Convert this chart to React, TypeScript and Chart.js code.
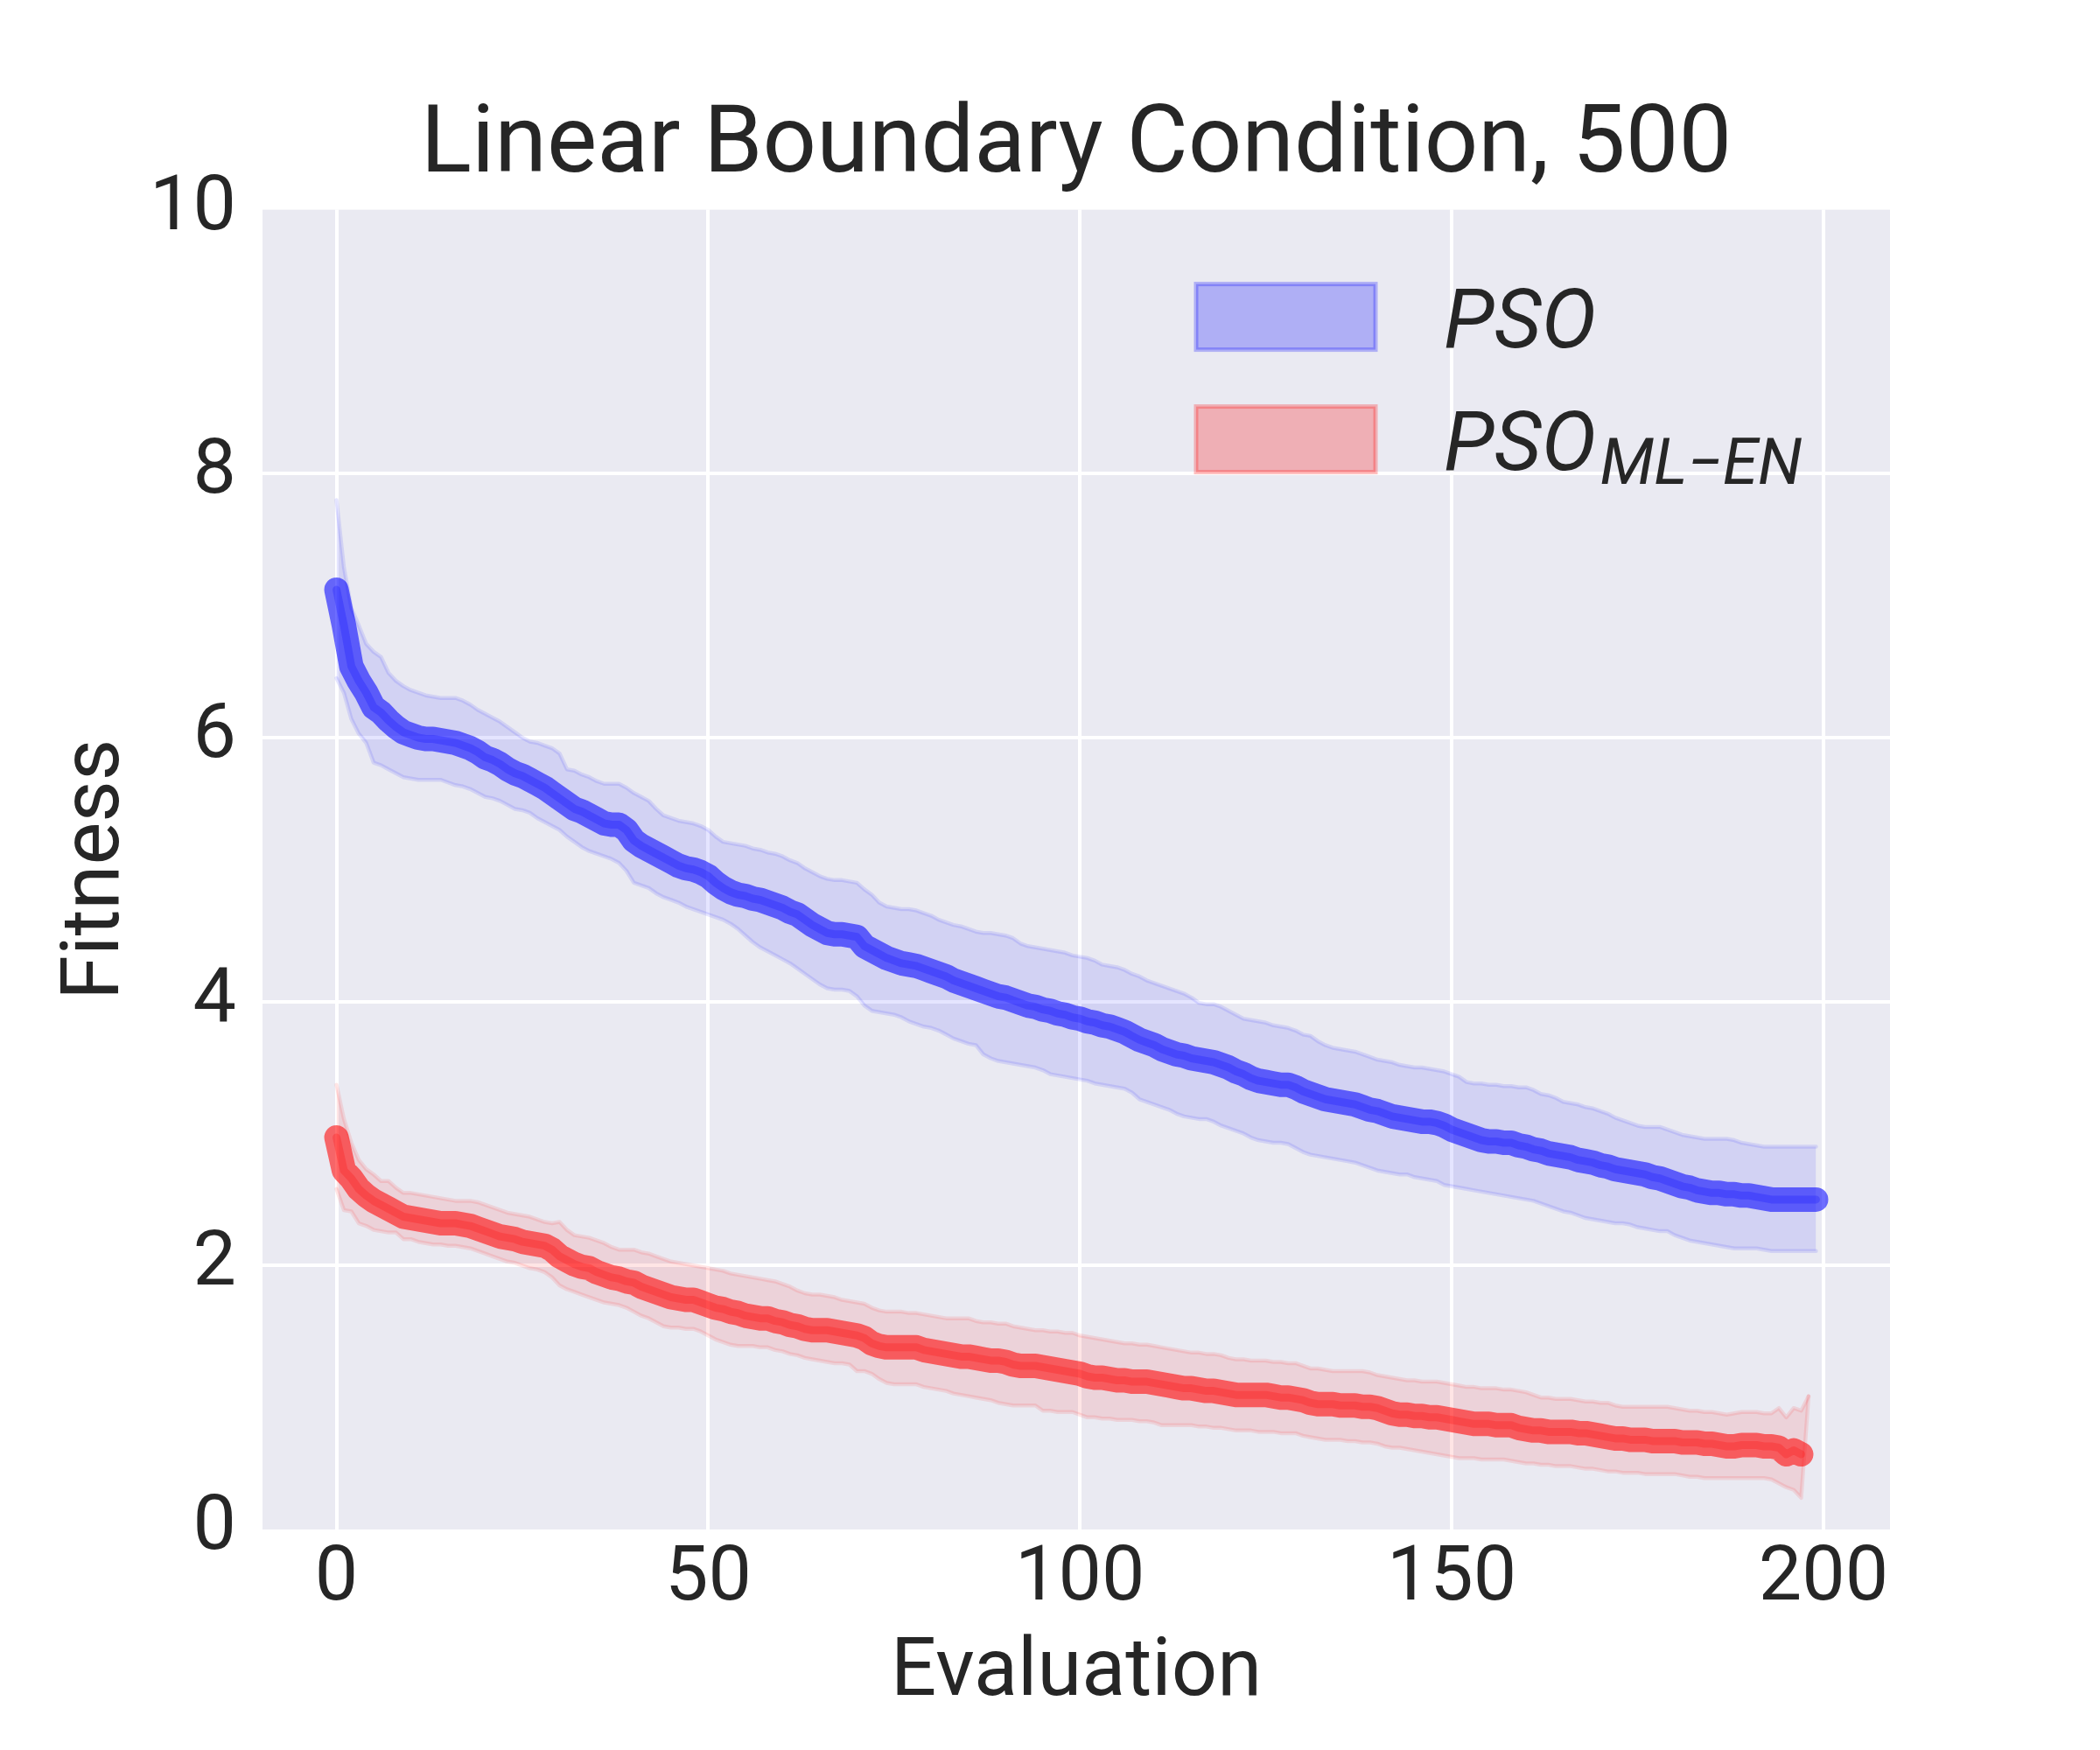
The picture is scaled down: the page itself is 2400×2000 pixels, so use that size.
import React, { useEffect, useRef } from "react";
import { Chart, registerables } from "chart.js";

Chart.register(...registerables);

const TITLE = "Linear Boundary Condition, 500";
const X_LABEL = "Evaluation";
const Y_LABEL = "Fitness";
const X_TICKS = [0, 50, 100, 150, 200];
const Y_TICKS = [0, 2, 4, 6, 8, 10];
const LEGEND_BASE = ["PSO", "PSO"];
const LEGEND_SUB = ["", "ML\u2212EN"];

const psoMean = [
  7.12, 6.85, 6.54, 6.43, 6.34, 6.23, 6.19, 6.13, 6.08, 6.04,
  6.02, 6.0, 5.99, 5.99, 5.98, 5.97, 5.96, 5.94, 5.92, 5.89,
  5.85, 5.83, 5.8, 5.76, 5.73, 5.71, 5.68, 5.65, 5.62, 5.58,
  5.54, 5.5, 5.46, 5.44, 5.41, 5.38, 5.35, 5.34, 5.34, 5.3,
  5.22, 5.18, 5.15, 5.12, 5.09, 5.06, 5.03, 5.01, 5.0, 4.98,
  4.95, 4.9, 4.86, 4.83, 4.81, 4.8, 4.78, 4.77, 4.75, 4.73,
  4.71, 4.68, 4.66, 4.62, 4.58, 4.55, 4.52, 4.51, 4.51, 4.5,
  4.49, 4.42, 4.39, 4.36, 4.33, 4.31, 4.29, 4.28, 4.27, 4.25,
  4.23, 4.21, 4.19, 4.16, 4.14, 4.12, 4.1, 4.08, 4.06, 4.04,
  4.03, 4.01, 3.99, 3.97, 3.96, 3.94, 3.93, 3.91, 3.9, 3.88,
  3.87, 3.85, 3.84, 3.82, 3.81, 3.79, 3.77, 3.74, 3.71, 3.69,
  3.67, 3.64, 3.62, 3.6, 3.59, 3.57, 3.56, 3.55, 3.54, 3.52,
  3.5, 3.47, 3.45, 3.42, 3.4, 3.39, 3.38, 3.37, 3.37, 3.35,
  3.32, 3.3, 3.28, 3.26, 3.25, 3.24, 3.23, 3.22, 3.2, 3.18,
  3.17, 3.15, 3.13, 3.12, 3.11, 3.1, 3.09, 3.09, 3.08, 3.06,
  3.03, 3.01, 2.99, 2.97, 2.95, 2.94, 2.94, 2.93, 2.93, 2.91,
  2.9, 2.88, 2.87, 2.85, 2.84, 2.83, 2.82, 2.8, 2.79, 2.78,
  2.76, 2.75, 2.73, 2.72, 2.71, 2.7, 2.69, 2.67, 2.66, 2.64,
  2.62, 2.6, 2.59, 2.57, 2.56, 2.55, 2.55, 2.54, 2.54, 2.53,
  2.53, 2.52, 2.51, 2.5, 2.5, 2.5, 2.5, 2.5, 2.5, 2.5,
];

const psoUpper = [
  7.8, 7.29, 6.98, 6.85, 6.71, 6.65, 6.61, 6.49, 6.43, 6.39,
  6.36, 6.34, 6.32, 6.31, 6.3, 6.3, 6.3, 6.28, 6.25, 6.21,
  6.18, 6.15, 6.12, 6.08, 6.04, 6.0, 5.97, 5.96, 5.94, 5.92,
  5.88, 5.76, 5.75, 5.72, 5.7, 5.67, 5.65, 5.65, 5.65, 5.62,
  5.58, 5.55, 5.52, 5.46, 5.41, 5.39, 5.37, 5.36, 5.35, 5.33,
  5.3, 5.25, 5.21, 5.2, 5.19, 5.18, 5.16, 5.15, 5.13, 5.12,
  5.1, 5.07, 5.05, 5.01, 4.98, 4.95, 4.93, 4.92, 4.92, 4.91,
  4.9, 4.85, 4.81, 4.75, 4.72, 4.71, 4.7, 4.7, 4.69, 4.67,
  4.65, 4.62, 4.6, 4.58, 4.57, 4.55, 4.53, 4.52, 4.52, 4.51,
  4.5, 4.48, 4.44, 4.42, 4.41, 4.4, 4.39, 4.38, 4.37, 4.35,
  4.34, 4.33, 4.31, 4.28, 4.27, 4.26, 4.24, 4.21, 4.19, 4.16,
  4.14, 4.12, 4.1, 4.08, 4.06, 4.03, 3.99, 3.98, 3.98, 3.96,
  3.93, 3.9, 3.87, 3.86, 3.85, 3.84, 3.82, 3.81, 3.8, 3.78,
  3.75, 3.74, 3.7, 3.67, 3.65, 3.64, 3.63, 3.62, 3.6, 3.58,
  3.56, 3.55, 3.54, 3.52, 3.51, 3.5, 3.5, 3.49, 3.48, 3.47,
  3.45, 3.43, 3.39, 3.38, 3.38, 3.37, 3.37, 3.36, 3.36, 3.35,
  3.35, 3.33, 3.3, 3.29, 3.27, 3.24, 3.23, 3.22, 3.2, 3.19,
  3.17, 3.15, 3.12, 3.1, 3.08, 3.06, 3.05, 3.05, 3.05, 3.03,
  3.01, 2.99, 2.98, 2.97, 2.96, 2.96, 2.96, 2.96, 2.95, 2.93,
  2.92, 2.91, 2.9, 2.9, 2.9, 2.9, 2.9, 2.9, 2.9, 2.9,
];

const psoLower = [
  6.45, 6.34, 6.14, 6.03, 5.96, 5.81, 5.79, 5.76, 5.73, 5.7,
  5.69, 5.68, 5.68, 5.68, 5.68, 5.66, 5.64, 5.63, 5.61, 5.58,
  5.55, 5.54, 5.52, 5.49, 5.46, 5.45, 5.43, 5.39, 5.36, 5.33,
  5.3, 5.25, 5.21, 5.17, 5.14, 5.12, 5.1, 5.08, 5.05, 4.99,
  4.9, 4.88, 4.86, 4.82, 4.79, 4.77, 4.75, 4.72, 4.7, 4.68,
  4.66, 4.64, 4.62, 4.59, 4.55, 4.5, 4.45, 4.41, 4.38, 4.35,
  4.32, 4.29, 4.25, 4.21, 4.17, 4.13, 4.1, 4.09, 4.09, 4.08,
  4.04, 3.97, 3.93, 3.92, 3.91, 3.9, 3.88, 3.85, 3.83, 3.81,
  3.8, 3.78, 3.75, 3.72, 3.7, 3.68, 3.67, 3.6, 3.57, 3.55,
  3.54, 3.53, 3.52, 3.51, 3.5, 3.48, 3.45, 3.44, 3.43, 3.42,
  3.41, 3.4, 3.38, 3.37, 3.36, 3.35, 3.34, 3.31, 3.26, 3.24,
  3.22, 3.2, 3.18, 3.15, 3.13, 3.12, 3.11, 3.11, 3.09, 3.06,
  3.04, 3.02, 3.0, 2.97, 2.95, 2.94, 2.93, 2.93, 2.92, 2.89,
  2.86, 2.84, 2.83, 2.82, 2.81, 2.8, 2.79, 2.78, 2.76, 2.74,
  2.72, 2.71, 2.7, 2.69, 2.69, 2.67, 2.66, 2.65, 2.64, 2.61,
  2.6, 2.59, 2.58, 2.57, 2.56, 2.55, 2.54, 2.53, 2.52, 2.51,
  2.5, 2.49, 2.47, 2.45, 2.43, 2.41, 2.4, 2.38, 2.36, 2.35,
  2.34, 2.33, 2.32, 2.32, 2.31, 2.29, 2.28, 2.27, 2.26, 2.26,
  2.23, 2.21, 2.19, 2.18, 2.17, 2.16, 2.15, 2.14, 2.13, 2.13,
  2.13, 2.13, 2.12, 2.11, 2.11, 2.11, 2.11, 2.11, 2.11, 2.11,
];

const mlenMean = [
  2.97, 2.72, 2.66, 2.58, 2.53, 2.49, 2.46, 2.43, 2.4, 2.37,
  2.36, 2.35, 2.34, 2.33, 2.32, 2.32, 2.32, 2.31, 2.3, 2.28,
  2.26, 2.24, 2.22, 2.21, 2.2, 2.18, 2.17, 2.16, 2.15, 2.12,
  2.07, 2.04, 2.01, 1.99, 1.98, 1.95, 1.93, 1.91, 1.9, 1.88,
  1.87, 1.84, 1.82, 1.8, 1.78, 1.76, 1.75, 1.74, 1.74, 1.72,
  1.7, 1.68, 1.67, 1.65, 1.64, 1.62, 1.61, 1.6, 1.6, 1.58,
  1.57, 1.55, 1.54, 1.52, 1.51, 1.51, 1.51, 1.5, 1.49, 1.48,
  1.47, 1.45, 1.41, 1.39, 1.38, 1.38, 1.38, 1.38, 1.38, 1.36,
  1.35, 1.34, 1.33, 1.32, 1.31, 1.31, 1.3, 1.29, 1.28, 1.28,
  1.27, 1.25, 1.24, 1.24, 1.24, 1.23, 1.22, 1.21, 1.2, 1.19,
  1.18, 1.16, 1.15, 1.15, 1.14, 1.13, 1.13, 1.12, 1.12, 1.12,
  1.11, 1.1, 1.09, 1.08, 1.07, 1.07, 1.06, 1.05, 1.05, 1.04,
  1.03, 1.02, 1.02, 1.02, 1.02, 1.02, 1.01, 1.0, 1.0, 0.99,
  0.98, 0.96, 0.95, 0.95, 0.95, 0.94, 0.94, 0.94, 0.93, 0.93,
  0.92, 0.9, 0.88, 0.87, 0.87, 0.86, 0.86, 0.85, 0.85, 0.84,
  0.83, 0.82, 0.81, 0.8, 0.8, 0.8, 0.79, 0.79, 0.79, 0.77,
  0.76, 0.75, 0.75, 0.74, 0.74, 0.74, 0.74, 0.73, 0.73, 0.72,
  0.71, 0.7, 0.69, 0.69, 0.68, 0.68, 0.68, 0.67, 0.67, 0.67,
  0.67, 0.66, 0.66, 0.66, 0.65, 0.65, 0.64, 0.63, 0.63, 0.64,
  0.64, 0.64, 0.63, 0.63, 0.62, 0.57, 0.6, 0.57,
];

const mlenUpper = [
  3.37, 3.11, 2.93, 2.8, 2.73, 2.69, 2.64, 2.64, 2.59, 2.55,
  2.55, 2.54, 2.53, 2.52, 2.51, 2.5, 2.49, 2.49, 2.49, 2.48,
  2.46, 2.44, 2.42, 2.4, 2.39, 2.38, 2.37, 2.35, 2.33, 2.32,
  2.33, 2.27, 2.23, 2.22, 2.21, 2.19, 2.17, 2.14, 2.12, 2.12,
  2.12, 2.1, 2.09, 2.07, 2.05, 2.03, 2.02, 2.01, 2.0, 1.99,
  1.98, 1.97, 1.96, 1.94, 1.93, 1.92, 1.91, 1.9, 1.89, 1.88,
  1.86, 1.84, 1.81, 1.79, 1.78, 1.78, 1.77, 1.76, 1.74, 1.73,
  1.72, 1.71, 1.68, 1.66, 1.65, 1.65, 1.65, 1.64, 1.64, 1.63,
  1.62, 1.61, 1.6, 1.6, 1.6, 1.6, 1.58, 1.57, 1.57, 1.56,
  1.56, 1.54, 1.53, 1.52, 1.51, 1.51, 1.5, 1.5, 1.49, 1.49,
  1.47, 1.46, 1.45, 1.44, 1.43, 1.42, 1.41, 1.41, 1.4, 1.4,
  1.39, 1.38, 1.37, 1.36, 1.35, 1.34, 1.34, 1.33, 1.33, 1.32,
  1.3, 1.29, 1.29, 1.28, 1.28, 1.28, 1.27, 1.27, 1.26, 1.26,
  1.24, 1.22, 1.22, 1.21, 1.2, 1.2, 1.2, 1.2, 1.2, 1.19,
  1.17, 1.16, 1.15, 1.14, 1.13, 1.13, 1.12, 1.12, 1.12, 1.11,
  1.1, 1.09, 1.08, 1.08, 1.07, 1.07, 1.07, 1.06, 1.06, 1.05,
  1.04, 1.02, 1.0, 1.0, 0.99, 0.99, 0.99, 0.98, 0.97, 0.97,
  0.96, 0.96, 0.94, 0.93, 0.93, 0.93, 0.93, 0.93, 0.93, 0.93,
  0.92, 0.91, 0.9, 0.9, 0.89, 0.89, 0.88, 0.87, 0.88, 0.89,
  0.89, 0.89, 0.88, 0.88, 0.92, 0.85, 0.92, 0.9, 1.01,
];

const mlenLower = [
  2.58, 2.42, 2.41, 2.32, 2.3, 2.27, 2.26, 2.25, 2.25, 2.2,
  2.2, 2.18, 2.17, 2.16, 2.16, 2.15, 2.15, 2.14, 2.13, 2.11,
  2.09, 2.07, 2.05, 2.03, 2.02, 2.0, 1.98, 1.97, 1.95, 1.91,
  1.85, 1.82, 1.8, 1.78, 1.76, 1.74, 1.72, 1.71, 1.7, 1.68,
  1.65, 1.62, 1.6, 1.57, 1.54, 1.53, 1.53, 1.52, 1.52, 1.5,
  1.47, 1.44, 1.42, 1.4, 1.39, 1.39, 1.39, 1.38, 1.38, 1.36,
  1.35, 1.33, 1.32, 1.3, 1.29, 1.28, 1.27, 1.26, 1.26, 1.25,
  1.2, 1.2, 1.18, 1.14, 1.11, 1.1, 1.1, 1.1, 1.1, 1.08,
  1.07, 1.06, 1.05, 1.03, 1.02, 1.01, 1.0, 0.99, 0.98, 0.96,
  0.95, 0.94, 0.94, 0.94, 0.94, 0.9, 0.9, 0.89, 0.89, 0.89,
  0.87, 0.85, 0.85, 0.84, 0.84, 0.83, 0.83, 0.83, 0.82, 0.82,
  0.81, 0.79, 0.79, 0.79, 0.79, 0.79, 0.78, 0.78, 0.77, 0.77,
  0.76, 0.75, 0.75, 0.75, 0.74, 0.74, 0.74, 0.73, 0.73, 0.73,
  0.71, 0.7, 0.69, 0.68, 0.68, 0.68, 0.67, 0.67, 0.66, 0.66,
  0.65, 0.63, 0.62, 0.62, 0.61, 0.6, 0.59, 0.58, 0.57, 0.56,
  0.55, 0.54, 0.54, 0.54, 0.53, 0.53, 0.53, 0.53, 0.52, 0.51,
  0.5, 0.5, 0.49, 0.49, 0.48, 0.48, 0.48, 0.47, 0.46, 0.46,
  0.45, 0.44, 0.44, 0.43, 0.43, 0.43, 0.42, 0.42, 0.42, 0.42,
  0.42, 0.41, 0.4, 0.4, 0.39, 0.39, 0.39, 0.39, 0.39, 0.39,
  0.39, 0.39, 0.39, 0.38, 0.35, 0.32, 0.3, 0.24, 1.01,
];

const FONT = "Roboto, 'DejaVu Sans', sans-serif";
const TEXT_COLOR = "#262626";

const toXY = (arr: number[]) => arr.map((y, i) => ({ x: i, y }));

const backgroundPlugin = {
  id: "bgPlot",
  beforeDraw(chart: any) {
    const { ctx, chartArea, width, height } = chart;
    ctx.save();
    ctx.fillStyle = "#ffffff";
    ctx.fillRect(0, 0, width, height);
    ctx.fillStyle = "#EAEAF2";
    ctx.fillRect(chartArea.left, chartArea.top, chartArea.right - chartArea.left, chartArea.bottom - chartArea.top);
    ctx.restore();
  },
};

const legendPlugin = {
  id: "mathLegend",
  afterDraw(chart: any) {
    const { ctx, chartArea } = chart;
    const fills = ["rgba(0,0,255,0.25)", "rgba(255,0,0,0.25)"];
    const patchX = chartArea.left + 1067;
    const patchW = 205;
    const patchH = 75;
    const tops = [chartArea.top + 85, chartArea.top + 225];
    const textX = chartArea.left + 1350;
    ctx.save();
    for (let i = 0; i < 2; i++) {
      ctx.fillStyle = fills[i];
      ctx.fillRect(patchX, tops[i], patchW, patchH);
      ctx.strokeStyle = fills[i];
      ctx.lineWidth = 5;
      ctx.strokeRect(patchX, tops[i], patchW, patchH);
      const baseY = tops[i] + 72;
      ctx.fillStyle = TEXT_COLOR;
      ctx.textAlign = "left";
      ctx.textBaseline = "alphabetic";
      ctx.font = `italic 94px ${FONT}`;
      ctx.fillText(LEGEND_BASE[i], textX, baseY);
      if (LEGEND_SUB[i]) {
        const w = ctx.measureText(LEGEND_BASE[i]).width;
        ctx.font = `italic 73px ${FONT}`;
        ctx.fillText(LEGEND_SUB[i], textX + w + 4, baseY + 16);
      }
    }
    ctx.restore();
  },
};

export default function App() {
  const ref = useRef<HTMLCanvasElement | null>(null);

  useEffect(() => {
    if (!ref.current) return;
    const lineBase = {
      pointRadius: 0,
      pointHoverRadius: 0,
      tension: 0,
      borderCapStyle: "round",
      borderJoinStyle: "round",
    };
    const chart = new Chart(ref.current, {
      type: "line",
      data: {
        datasets: [
          { ...lineBase, data: toXY(psoMean), borderColor: "rgba(0,0,255,0.22)", borderWidth: 9, fill: false },
          { ...lineBase, data: toXY(psoMean), borderColor: "rgba(0,0,255,0.57)", borderWidth: 28, fill: false },
          { ...lineBase, data: toXY(mlenMean), borderColor: "rgba(255,0,0,0.22)", borderWidth: 9, fill: false },
          { ...lineBase, data: toXY(mlenMean), borderColor: "rgba(255,0,0,0.57)", borderWidth: 28, fill: false },
          { ...lineBase, data: toXY(psoUpper), borderColor: "rgba(0,0,255,0.1)", borderWidth: 4.5, fill: "+1", backgroundColor: "rgba(0,0,255,0.1)" },
          { ...lineBase, data: toXY(psoLower), borderColor: "rgba(0,0,255,0.1)", borderWidth: 4.5, fill: false },
          { ...lineBase, data: toXY(mlenUpper), borderColor: "rgba(255,0,0,0.1)", borderWidth: 4.5, fill: "+1", backgroundColor: "rgba(255,0,0,0.1)" },
          { ...lineBase, data: toXY(mlenLower), borderColor: "rgba(255,0,0,0.1)", borderWidth: 4.5, fill: false },
        ] as any,
      },
      options: {
        animation: false,
        responsive: false,
        devicePixelRatio: 1,
        layout: { padding: { left: 0, right: 240, top: 0, bottom: 0 } },
        plugins: {
          legend: { display: false },
          tooltip: { enabled: false },
          title: {
            display: true,
            text: TITLE,
            fullSize: false,
            color: TEXT_COLOR,
            font: { family: FONT, size: 108, weight: "normal" },
            padding: { top: 104, bottom: 6 },
          },
        },
        scales: {
          x: {
            type: "linear",
            min: -9.95,
            max: 208.95,
            afterBuildTicks: (scale: any) => {
              scale.ticks = X_TICKS.map((v) => ({ value: v }));
            },
            afterFit: (scale: any) => {
              scale.height = 252;
            },
            ticks: {
              color: TEXT_COLOR,
              font: { family: FONT, size: 88 },
              padding: 5,
              maxRotation: 0,
              autoSkip: false,
              callback: (v: any) => String(v),
            },
            grid: { color: "#ffffff", lineWidth: 4, drawTicks: false },
            border: { display: false },
            title: {
              display: true,
              text: X_LABEL,
              color: TEXT_COLOR,
              font: { family: FONT, size: 92 },
              padding: { top: 0, bottom: 31 },
            },
          },
          y: {
            type: "linear",
            min: 0,
            max: 10,
            afterBuildTicks: (scale: any) => {
              scale.ticks = Y_TICKS.map((v) => ({ value: v }));
            },
            afterFit: (scale: any) => {
              scale.width = 300;
            },
            ticks: {
              color: TEXT_COLOR,
              font: { family: FONT, size: 88 },
              padding: 30,
              autoSkip: false,
              callback: (v: any) => String(v),
            },
            grid: {
              color: (c: any) => (c.tick && (c.tick.value === 0 || c.tick.value === 10) ? "rgba(0,0,0,0)" : "#ffffff"),
              lineWidth: 4,
              drawTicks: false,
            },
            border: { display: false },
            title: {
              display: true,
              text: Y_LABEL,
              color: TEXT_COLOR,
              font: { family: FONT, size: 92 },
              padding: { top: 57, bottom: 0 },
            },
          },
        },
      } as any,
      plugins: [backgroundPlugin, legendPlugin],
    });
    return () => chart.destroy();
  }, []);

  return (
    <div style={{ position: "absolute", left: 0, top: 0, width: 2400, height: 2000, background: "#ffffff" }}>
      <canvas ref={ref} width={2400} height={2000} style={{ width: 2400, height: 2000, display: "block" }} />
    </div>
  );
}
